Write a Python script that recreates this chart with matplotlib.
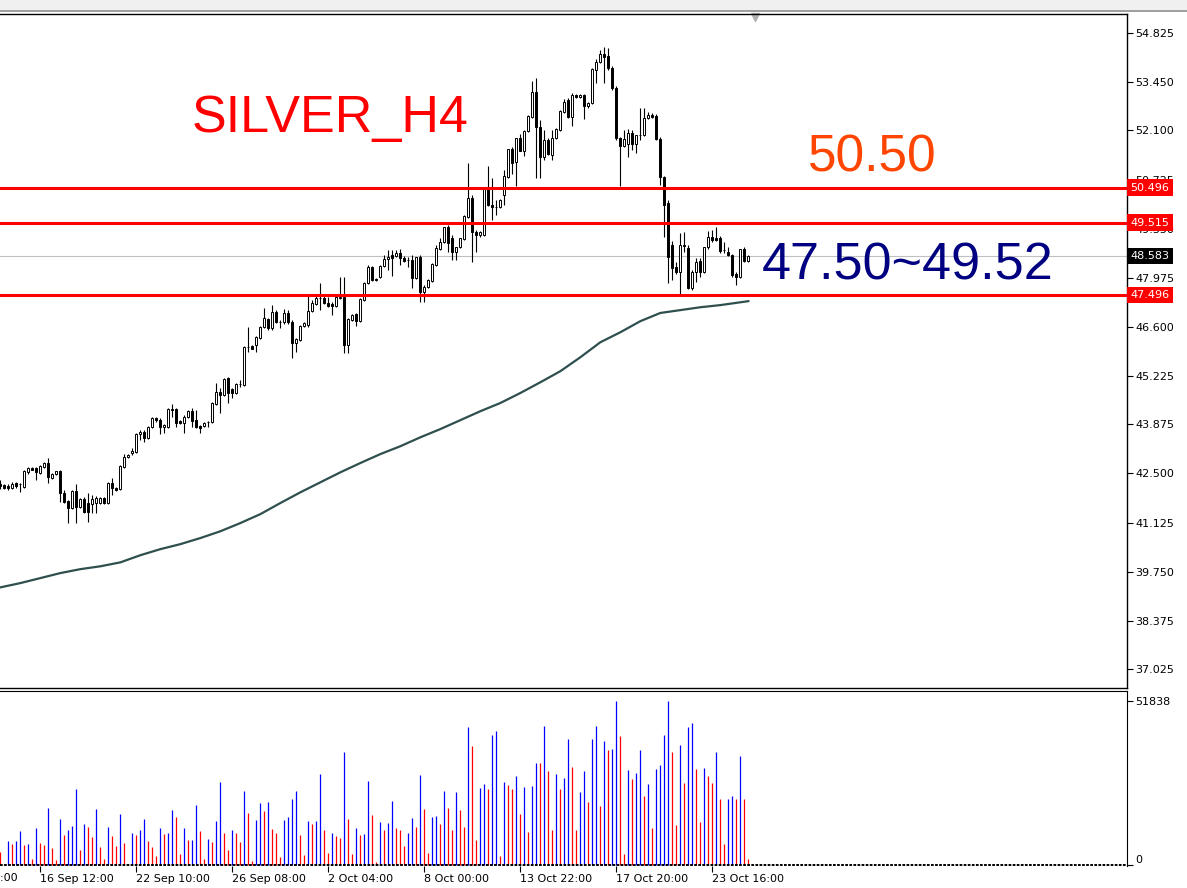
import numpy as np
import matplotlib.pyplot as plt
from matplotlib.patches import Rectangle

# SILVER H4 candles
opens = [42.20, 42.17, 42.14, 42.09, 42.23, 42.20, 42.11, 42.53, 42.65, 42.65,
         42.51, 42.67, 42.79, 42.37, 42.48, 42.56, 41.95, 41.72, 41.53, 42.00,
         41.55, 41.78, 41.67, 41.64, 41.67, 41.67, 41.81, 41.67, 42.23, 42.09,
         42.06, 42.67, 42.95, 43.07, 43.09, 43.60, 43.65, 43.49, 43.79, 44.05,
         43.99, 43.79, 43.79, 44.30, 44.30, 43.96, 43.91, 44.07, 44.24, 43.99,
         43.82, 43.82, 43.93, 43.93, 44.44, 44.77, 44.69, 45.17, 44.86, 44.75,
         45.00, 44.97, 46.03, 46.06, 46.09, 46.29, 46.59, 46.82, 46.57, 47.01,
         46.73, 46.73, 46.99, 46.73, 46.15, 46.23, 46.62, 46.65, 47.04, 47.24,
         47.41, 47.41, 47.27, 47.24, 47.18, 47.41, 47.43, 46.09, 46.79, 46.96,
         46.76, 47.35, 47.83, 48.27, 47.94, 47.99, 48.30, 48.50, 48.61, 48.58,
         48.67, 48.53, 48.47, 48.47, 47.97, 48.55, 47.57, 47.71, 47.88, 48.33,
         48.78, 48.97, 49.39, 49.09, 48.69, 48.83, 49.06, 49.67, 50.21, 49.25,
         49.17, 49.17, 50.46, 50.01, 49.95, 49.95, 50.29, 50.79, 51.58, 51.22,
         51.89, 51.52, 52.08, 52.47, 53.17, 52.19, 51.35, 51.83, 51.41, 51.89,
         52.11, 52.61, 52.95, 52.47, 53.09, 53.03, 53.09, 52.78, 52.87, 53.79,
         54.01, 54.24, 54.18, 53.85, 53.29, 51.89, 51.66, 51.72, 52.03, 51.72,
         51.97, 51.97, 52.45, 52.53, 52.50, 51.86, 50.79, 50.07, 48.89, 48.27,
         48.13, 48.89, 48.81, 47.69, 48.13, 48.44, 48.13, 48.83, 49.11, 49.09,
         49.09, 48.75, 48.69, 48.61, 48.08, 47.99, 48.78, 48.44]
highs = [42.31, 42.20, 42.20, 42.25, 42.25, 42.23, 42.59, 42.67, 42.67, 42.67,
         42.73, 42.81, 42.93, 42.50, 42.56, 42.59, 42.03, 41.75, 42.03, 42.20,
         41.81, 41.83, 41.95, 41.89, 41.86, 41.83, 41.83, 42.25, 42.37, 42.11,
         42.73, 43.04, 43.04, 43.21, 43.63, 43.71, 43.71, 43.82, 44.07, 44.07,
         44.05, 43.88, 44.33, 44.44, 44.33, 43.99, 44.13, 44.27, 44.33, 44.27,
         43.85, 43.93, 43.96, 44.49, 45.03, 44.89, 45.17, 45.19, 44.89, 45.03,
         45.11, 46.06, 46.59, 46.09, 46.34, 46.62, 47.13, 46.85, 47.21, 47.07,
         46.79, 47.10, 47.07, 46.79, 46.29, 46.65, 46.73, 47.49, 47.35, 47.49,
         47.83, 47.46, 47.43, 47.29, 47.46, 47.99, 47.99, 46.85, 46.96, 46.99,
         47.41, 47.85, 48.33, 48.30, 47.97, 48.33, 48.61, 48.75, 48.75, 48.75,
         48.78, 48.58, 48.55, 48.61, 48.55, 48.61, 47.77, 47.94, 48.39, 48.89,
         49.09, 49.39, 49.45, 49.17, 48.83, 49.09, 49.73, 51.19, 50.29, 49.31,
         49.28, 50.51, 51.10, 50.77, 50.15, 50.18, 50.99, 51.58, 51.63, 51.89,
         52.00, 52.11, 52.53, 53.48, 53.57, 52.39, 52.11, 51.89, 52.11, 52.17,
         52.67, 52.98, 53.01, 53.15, 53.12, 53.12, 53.12, 52.89, 53.85, 54.10,
         54.35, 54.43, 54.40, 53.90, 53.34, 51.91, 52.11, 52.14, 52.11, 51.97,
         52.73, 52.73, 52.61, 52.59, 52.56, 51.91, 50.82, 50.15, 49.00, 48.41,
         49.23, 49.25, 48.89, 48.19, 48.53, 48.53, 48.83, 49.28, 49.31, 49.39,
         49.14, 48.97, 48.83, 48.64, 48.13, 48.78, 48.83, 48.61]
lows = [42.06, 42.06, 42.03, 42.06, 42.09, 41.97, 42.09, 42.48, 42.59, 42.31,
        42.48, 42.65, 42.23, 42.34, 42.45, 41.69, 41.67, 41.11, 41.50, 41.11,
        41.53, 41.39, 41.13, 41.39, 41.39, 41.64, 41.64, 41.64, 41.89, 42.00,
        42.03, 42.65, 42.93, 43.01, 43.07, 43.43, 43.37, 43.46, 43.77, 43.93,
        43.60, 43.63, 43.77, 44.07, 43.79, 43.88, 43.63, 44.05, 43.79, 43.77,
        43.63, 43.79, 43.79, 43.91, 44.41, 44.19, 44.66, 44.47, 44.61, 44.72,
        44.91, 44.94, 45.89, 45.98, 45.89, 46.26, 46.57, 46.51, 46.51, 46.71,
        46.57, 46.68, 46.68, 45.73, 45.89, 46.20, 46.59, 46.59, 47.01, 47.21,
        47.07, 47.24, 47.15, 46.93, 47.15, 47.38, 45.87, 45.87, 46.76, 46.62,
        46.73, 47.32, 47.80, 47.88, 47.88, 47.97, 48.27, 48.19, 48.02, 48.55,
        48.33, 48.41, 48.27, 47.69, 47.94, 47.29, 47.29, 47.69, 47.85, 48.30,
        48.75, 48.95, 48.69, 48.47, 48.47, 48.81, 49.03, 49.65, 48.41, 48.69,
        49.11, 49.14, 49.98, 49.59, 49.73, 49.93, 50.01, 50.77, 50.88, 50.54,
        51.52, 51.38, 52.05, 52.45, 50.77, 50.77, 51.27, 51.41, 51.27, 51.86,
        52.08, 52.59, 52.45, 52.22, 53.01, 53.01, 52.42, 52.73, 52.84, 53.43,
        53.99, 53.43, 53.79, 53.23, 51.83, 50.54, 51.63, 51.35, 51.55, 51.47,
        51.83, 51.94, 52.42, 52.45, 51.83, 50.57, 49.11, 47.83, 47.91, 48.08,
        47.52, 48.69, 47.66, 47.63, 47.85, 47.99, 48.11, 48.78, 48.97, 49.00,
        48.67, 48.67, 48.58, 47.99, 47.77, 47.97, 48.41, 48.41]
closes = [42.14, 42.09, 42.09, 42.20, 42.14, 42.20, 42.56, 42.65, 42.59, 42.53,
          42.70, 42.79, 42.39, 42.48, 42.56, 41.95, 41.69, 41.53, 42.00, 41.55,
          41.78, 41.41, 41.41, 41.78, 41.81, 41.81, 41.67, 42.23, 42.09, 42.03,
          42.70, 42.95, 43.01, 43.12, 43.60, 43.65, 43.49, 43.79, 44.05, 43.99,
          43.79, 43.85, 44.30, 44.27, 43.91, 43.91, 44.07, 44.24, 43.96, 43.79,
          43.77, 43.91, 43.93, 44.47, 44.77, 44.69, 45.14, 44.75, 44.75, 45.00,
          45.00, 46.03, 46.03, 45.98, 46.31, 46.59, 46.85, 46.57, 47.01, 46.73,
          46.73, 46.99, 46.73, 46.15, 46.26, 46.62, 46.71, 47.04, 47.27, 47.41,
          47.41, 47.27, 47.18, 47.18, 47.43, 47.43, 46.09, 46.82, 46.93, 46.76,
          47.38, 47.83, 48.27, 47.91, 47.91, 48.30, 48.50, 48.55, 48.53, 48.67,
          48.53, 48.44, 48.47, 47.97, 48.55, 47.57, 47.71, 47.91, 48.36, 48.81,
          48.97, 49.39, 48.95, 48.69, 48.83, 49.09, 49.70, 50.21, 49.25, 49.17,
          49.25, 50.46, 50.01, 49.95, 49.95, 50.15, 50.82, 51.58, 51.19, 51.89,
          51.52, 52.08, 52.50, 53.17, 52.19, 51.35, 51.83, 51.44, 51.89, 52.14,
          52.64, 52.89, 52.47, 53.09, 53.03, 53.09, 52.78, 52.87, 53.82, 54.01,
          54.24, 54.15, 53.85, 53.29, 51.89, 51.66, 51.86, 52.03, 51.72, 51.97,
          51.97, 52.45, 52.53, 52.47, 51.86, 50.79, 50.01, 48.55, 48.25, 48.13,
          48.89, 48.86, 47.69, 48.13, 48.41, 48.13, 48.83, 49.11, 49.03, 49.03,
          48.72, 48.75, 48.61, 48.05, 47.99, 48.78, 48.44, 48.58]
volumes = [4000, 400, 7600, 6640, 7650, 10750, 6220, 6530, 1790, 11600,
           6850, 6220, 17900, 5270, 1480, 14440, 9380, 10960, 12230, 23930,
           4640, 12860, 11910, 8750, 17600, 5590, 1790, 11910, 9060, 5900,
           16020, 6850, 200, 10010, 9380, 10960, 14440, 7480, 5590, 2740,
           11600, 9700, 10010, 17290, 15070, 3370, 11600, 7800, 7850, 18870,
           10650, 1790, 8120, 7170, 13810, 26140, 10010, 4640, 10960, 10010,
           7170, 23290, 16340, 1160, 14120, 19500, 16970, 19820, 11280, 10010,
           2420, 14120, 15070, 20760, 23290, 9380, 3060, 13810, 12860, 13900,
           28670, 10960, 3690, 10010, 9060, 8430, 35630, 14440, 3370, 11600,
           9380, 9700, 26460, 15700, 840, 13490, 10960, 13180, 20130, 11600,
           10960, 5900, 10010, 14760, 11910, 28350, 17600, 3690, 15070, 15390,
           12860, 23290, 17920, 10960, 22980, 17290, 11910, 43530, 37520, 7800,
           24240, 25510, 23930, 41000, 42270, 2740, 26140, 25190, 23930, 28040,
           16020, 24560, 10330, 24870, 32150, 32100, 43850, 29620, 10960, 28670,
           23930, 27400, 39740, 30880, 10960, 22980, 29620, 19820, 39740, 43850,
           18550, 39100, 36260, 36570, 51838, 40680, 3370, 29930, 27090, 28990,
           36260, 21710, 25510, 11600, 30250, 31510, 41000, 51838, 35630, 12540,
           37840, 25820, 43530, 44800, 30250, 13490, 30570, 28040, 25820, 35630,
           20760, 6530, 20800, 21710, 20760, 34360, 20760, 1790]

# moving average, sampled along the curve
ma_idx = [0, 5, 10, 15, 20, 25, 30, 35, 40, 45, 50, 55, 60, 65, 70, 75, 80,
          85, 90, 95, 100, 105, 110, 115, 120, 125, 130, 135, 140, 145, 150,
          155, 160, 165, 170, 175, 180, 187]
ma_val = [39.31, 39.43, 39.57, 39.71, 39.82, 39.90, 40.01, 40.21, 40.38, 40.52,
          40.69, 40.88, 41.11, 41.36, 41.67, 41.97, 42.25, 42.53, 42.79, 43.04,
          43.26, 43.51, 43.74, 43.99, 44.24, 44.47, 44.75, 45.05, 45.36, 45.75,
          46.17, 46.45, 46.76, 46.99, 47.07, 47.15, 47.21, 47.32]

levels = [50.496, 49.515, 47.496]
last_price = 48.583
price_ticks = [54.825, 53.450, 52.100, 50.725, 49.350, 47.975, 46.600, 45.225,
               43.875, 42.500, 41.125, 39.750, 38.375, 37.025]
date_idx = [10, 34, 58, 82, 106, 130, 154, 178]
date_labels = ['16 Sep 12:00', '22 Sep 10:00', '26 Sep 08:00', '2 Oct 04:00',
               '8 Oct 00:00', '13 Oct 22:00', '17 Oct 20:00', '23 Oct 16:00']
first_idx, first_label = -14, '10 Sep 16:00'   # cut off at the left edge

W, H = 1187, 888
fig = plt.figure(figsize=(W / 100, H / 100), dpi=100)
fig.patch.set_facecolor('white')

# top grey strip of the terminal window
fig.patches.append(Rectangle((0, 1 - 10 / H), 1, 10 / H, transform=fig.transFigure,
                             facecolor='#F0F0F0', edgecolor='none'))
fig.patches.append(Rectangle((0, 1 - 12 / H), 1, 2 / H, transform=fig.transFigure,
                             facecolor='#A0A0A0', edgecolor='none'))

ax = fig.add_axes([0, 200 / H, 1127 / W, 674 / H])
axv = fig.add_axes([0, 22 / H, 1127 / W, 175 / H])

n = len(opens)
idx = np.arange(n)
o = np.array(opens)
c = np.array(closes)
hi = np.array(highs)
lo = np.array(lows)

# candles
ax.vlines(idx, lo, hi, color='black', lw=0.8, zorder=3)
bottoms = np.minimum(o, c)
heights = np.maximum(np.abs(c - o), 0.012)
face = ['white' if c[i] >= o[i] else 'black' for i in range(n)]
ax.bar(idx, heights, bottom=bottoms, width=0.55, color=face,
       edgecolor='black', linewidth=0.7, zorder=4)

ax.plot(ma_idx, ma_val, color='#2F4F4F', lw=1.6, zorder=2)

ax.axhline(last_price, color='#C0C0C0', lw=0.8, zorder=1)
for lv in levels:
    ax.axhline(lv, color='#FF0000', lw=2.2, zorder=5)

xmin, xmax = -0.083, -0.083 + 1127 / 4
ax.set_xticks([])
ax.set_xlim(xmin, xmax)
ax.yaxis.tick_right()
ax.set_yticks(price_ticks)
ax.set_yticklabels([f'{t:.3f}' for t in price_ticks])
ax.set_ylim(36.494, 55.357)
ax.tick_params(axis='y', direction='out', length=4, width=0.8, labelsize=8, pad=2)
ax.spines['left'].set_visible(False)
for s in ['top', 'right', 'bottom']:
    ax.spines[s].set_linewidth(1.0)

yt = ax.get_yaxis_transform()
for lv in levels:
    ax.text(1.003, lv, f'{lv:.3f}', transform=yt, color='white', fontsize=8,
            va='center', ha='left', zorder=10,
            bbox=dict(boxstyle='square,pad=0.3', fc='#FF0000', ec='none'))
ax.text(1.003, last_price, f'{last_price:.3f}', transform=yt, color='white',
        fontsize=8, va='center', ha='left', zorder=10,
        bbox=dict(boxstyle='square,pad=0.3', fc='black', ec='none'))

ax.plot([755 / 1127], [1 - 3 / 674], marker='v', ms=6, color='#B0B0B0',
        transform=ax.transAxes, clip_on=False)

# volumes: blue when rising, red when falling
vol = np.array(volumes)
vcol = ['#FF0000'] + ['#0000FF' if vol[i] > vol[i - 1] else '#FF0000' for i in range(1, n)]
axv.vlines(idx, 0, vol, colors=vcol, lw=0.9)
axv.axhline(0, color='black', lw=1.4, linestyle=(0, (1.4, 0.7)))
axv.yaxis.tick_right()
axv.set_yticks([0, 51838])
axv.set_yticklabels(['0', '51838'])
axv.tick_params(axis='y', direction='out', length=4, labelsize=8, pad=2)
axv.get_yticklabels()[0].set_va('bottom')
axv.set_xticks(date_idx)
axv.set_xticklabels(date_labels)
axv.tick_params(axis='x', direction='out', length=4, labelsize=8, pad=2)
for lbl in axv.get_xticklabels():
    lbl.set_ha('left')
axv.set_xlim(xmin, xmax)
axv.set_ylim(-300, 55000)
axv.spines['left'].set_visible(False)
axv.spines['bottom'].set_visible(False)

# date label that starts left of the window, only its tail shows
axv.text(first_idx, -6.8 / 175, first_label, transform=axv.get_xaxis_transform(),
         fontsize=8, ha='left', va='top', clip_on=False)

# annotations
fig.text(192 / W, 1 - 132 / H, 'SILVER_H4', color='#FF0000', fontsize=37.5,
         family='Liberation Sans', va='baseline', ha='left')
fig.text(808 / W, 1 - 172 / H, '50.50', color='#FF4500', fontsize=37,
         family='Liberation Sans', va='baseline', ha='left')
fig.text(762 / W, 1 - 280 / H, '47.50~49.52', color='#000080', fontsize=37.5,
         family='Liberation Sans', va='baseline', ha='left')

fig.savefig('out.png', dpi=100)
